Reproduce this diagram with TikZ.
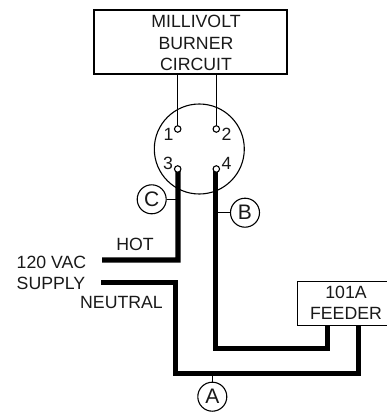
\documentclass[tikz,border=0pt]{standalone}
\usepackage{fontspec}
\setmainfont{Liberation Sans}
\begin{document}
\begin{tikzpicture}[x=1pt,y=-1pt,
  boxst/.style={draw=black,line width=1.3pt,fill=white,inner sep=0pt,align=center},
  txt/.style={font=\fontsize{17.7}{21.5}\selectfont,inner sep=0pt,text=black!90},
  term/.style={circle,draw=black,line width=1.1pt,fill=white,minimum size=6.5pt,inner sep=0pt},
  thin wire/.style={line width=1.2pt},
  thick wire/.style={line width=5.2pt,line cap=butt,line join=miter},
  callout/.style={circle,draw=black,line width=1.1pt,fill=white,minimum size=29pt,inner sep=0pt,font=\fontsize{21}{22}\selectfont,text=black!90}]
\useasboundingbox (0,0) rectangle (386,412);
\node[boxst,minimum width=193pt,minimum height=64pt] (burner) at (190.5,42) {};
\node[txt,align=center] (burnertext) at (196,43) {MILLIVOLT\\BURNER\\CIRCUIT};
\node[boxst,minimum width=90pt,minimum height=44pt,anchor=north west] (feeder) at (296.7,280.7) {};
\node[txt,align=center] (feedertext) at (346,303) {101A\\FEEDER};
\node[circle,draw=black,line width=1.1pt,minimum size=90pt,inner sep=0pt] (plug) at (199.3,149) {};
\coordinate (t1top) at (177.7,74);
\coordinate (t2top) at (216.3,74);
\coordinate (hotcorner) at (178,260);
\coordinate (hotend) at (102,260);
\coordinate (neutend) at (101,282.7);
\coordinate (neutcorner) at (175.5,282.7);
\coordinate (neutbottom) at (175.5,373.7);
\coordinate (neutright) at (358.5,373.7);
\coordinate (neutbox) at (358.5,325);
\coordinate (bcorner) at (215.7,348.5);
\coordinate (bright) at (327.3,348.5);
\coordinate (bbox) at (327.3,325);
\coordinate (cjoin) at (178,199.3);
\coordinate (bjoin) at (215.7,212.7);
\coordinate (ajoin) at (212.3,373.7);
\draw[thin wire] (t1top) -- (177.7,129);
\draw[thin wire] (t2top) -- (216.3,129);
\node[term] (t1) at (177.7,129) {};
\node[term] (t2) at (216.3,129) {};
\draw[thick wire] (177.9,169) -- (hotcorner) -- (hotend);
\draw[thick wire] (neutend) -- (neutcorner) -- (neutbottom) -- (neutright) -- (neutbox);
\draw[thick wire] (215.7,169) -- (bcorner) -- (bright) -- (bbox);
\node[term] (t3) at (177.7,169) {};
\node[term] (t4) at (216.3,169) {};
\node[callout] (C) at (151.7,199.3) {C};
\node[callout] (B) at (245,212.7) {B};
\node[callout] (A) at (212.3,396.7) {A};
\draw[thin wire] (C) -- (cjoin);
\draw[thin wire] (B) -- (bjoin);
\draw[thin wire] (A) -- (ajoin);
\node[txt] (n1) at (168.5,134) {1};
\node[txt] (n2) at (226.5,134) {2};
\node[txt] (n3) at (168,163.5) {3};
\node[txt] (n4) at (226.5,163.5) {4};
\node[txt,anchor=east] (hot) at (154,244.5) {HOT};
\node[txt,anchor=west] (v120) at (16.5,262) {120 VAC};
\node[txt,anchor=west] (supply) at (16.5,283.5) {SUPPLY};
\node[txt,anchor=west] (neutral) at (80,302.5) {NEUTRAL};
\end{tikzpicture}
\end{document}
